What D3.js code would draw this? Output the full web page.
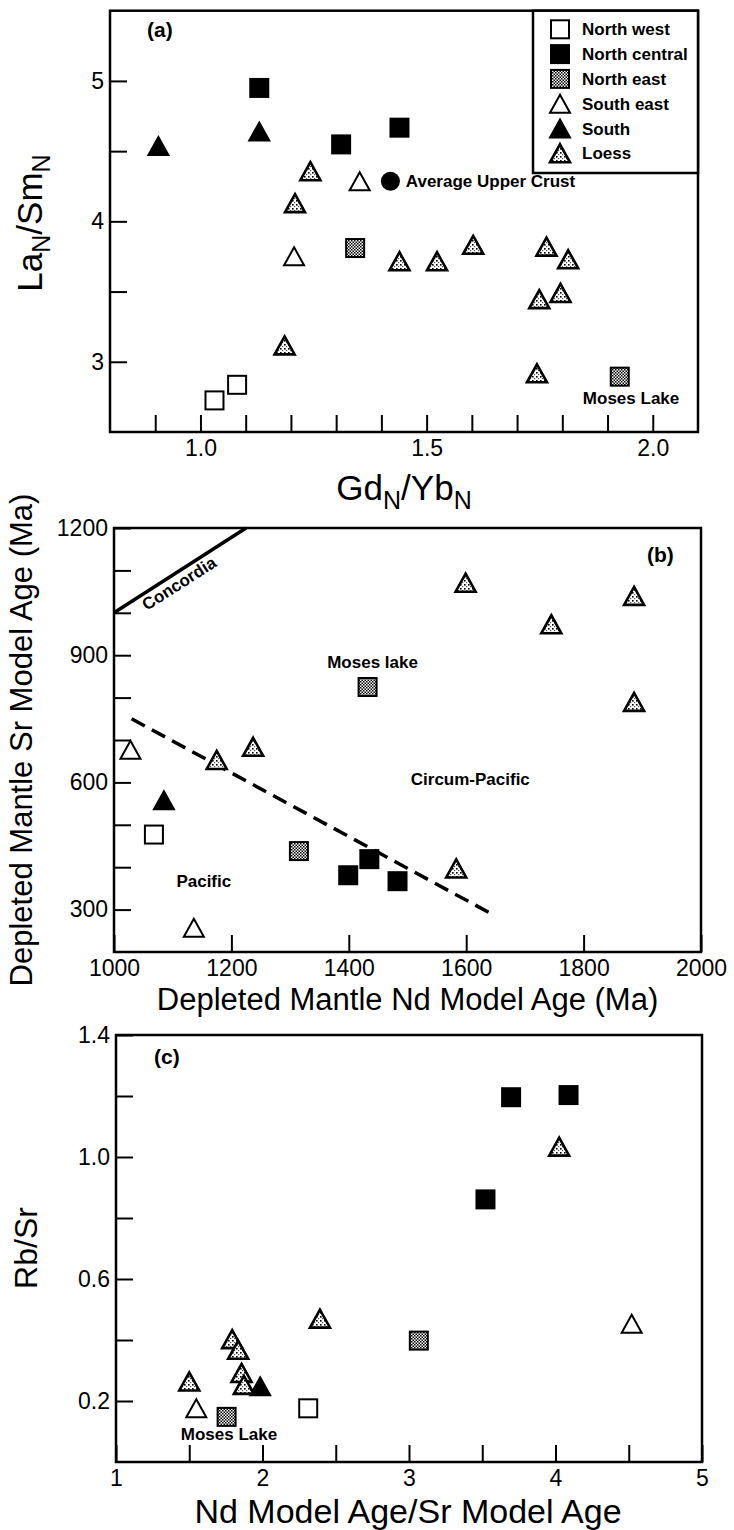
<!DOCTYPE html>
<html><head><meta charset="utf-8">
<script src="https://cdn.jsdelivr.net/npm/d3@7"></script>
<style>
body{margin:0;background:#fff}
text{font-family:"Liberation Sans",Arial,Helvetica,sans-serif;fill:#000}
</style>
</head><body>
<svg id="chart" width="734" height="1530"></svg>
<script>
// ---------- DATA ----------
const groups = ["North west","North central","North east","South east","South","Loess"];

// Panel (a): [GdN/YbN, LaN/SmN]
const aNorthWest    = [[1.031,2.725],[1.081,2.836]];
const aNorthCentral = [[1.13,4.95],[1.311,4.548],[1.44,4.667]];
const aNorthEast    = [[1.342,3.81],[1.927,2.894]];
const aSouthEast    = [[1.352,4.286],[1.207,3.751]];
const aSouth        = [[0.907,4.536],[1.13,4.64]];
const aLoess        = [[1.243,4.357],[1.209,4.13],[1.44,3.716],[1.523,3.716],[1.603,3.833],[1.765,3.82],[1.813,3.73],[1.796,3.49],[1.749,3.446],[1.186,3.117],[1.744,2.918]];
const aUpperCrust   = [[1.42,4.286]];

// Panel (b): [DM Nd model age, DM Sr model age]
const bNorthWest    = [[1068,477]];
const bNorthCentral = [[1435,419],[1399,381],[1483,367]];
const bNorthEast    = [[1315,438],[1432,825]];
const bSouthEast    = [[1028,677],[1136,257]];
const bSouth        = [[1085,558]];
const bLoess        = [[1599,1071],[1886,1040],[1745,973],[1886,790],[1175,653],[1237,684],[1583,397]];
const bConcordia    = [[1000,1000],[1225,1200]];
const bDivide       = [[1030,750],[1643,290]];

// Panel (c): [Nd age / Sr age, Rb/Sr]
const cNorthWest    = [[2.312,0.176]];
const cNorthCentral = [[3.697,1.196],[4.089,1.203],[3.522,0.861]];
const cNorthEast    = [[3.067,0.398],[1.755,0.148]];
const cSouthEast    = [[4.52,0.453],[1.548,0.176]];
const cSouth        = [[1.984,0.248]];
const cLoess        = [[4.025,1.034],[2.392,0.47],[1.793,0.403],[1.834,0.368],[1.857,0.292],[1.873,0.253],[1.5,0.264]];

// Ticks
const aXTicks = [0.9,1.0,1.1,1.2,1.3,1.4,1.5,1.6,1.7,1.8,1.9,2.0];
const aXLabels = [1.0,1.5,2.0];
const aYTicks = [3,3.5,4,4.5,5];
const aYLabels = [3,4,5];
const bXTicks = [1000,1200,1400,1600,1800,2000];
const bXLabels = [1000,1200,1400,1600,1800,2000];
const bYTicks = [300,400,500,600,700,800,900,1000,1100,1200];
const bYLabels = [300,600,900,1200];
const cXTicks = [1,1.5,2,2.5,3,3.5,4,4.5,5];
const cXLabels = [1,2,3,4,5];
const cYTicks = [0.2,0.4,0.6,0.8,1.0,1.2,1.4];
const cYLabels = [0.2,0.6,1.0,1.4];

// ---------- DRAW ----------
const svg = d3.select("#chart");
const defs = svg.append("defs");
const pDense = defs.append("pattern").attr("id","dense").attr("patternUnits","userSpaceOnUse").attr("width",3).attr("height",3);
pDense.append("rect").attr("width",3).attr("height",3).attr("fill","#fff");
pDense.append("rect").attr("width",1.5).attr("height",1.5).attr("fill","#000");
pDense.append("rect").attr("x",1.5).attr("y",1.5).attr("width",1.5).attr("height",1.5).attr("fill","#000");
const pDots = defs.append("pattern").attr("id","dots").attr("patternUnits","userSpaceOnUse").attr("width",4).attr("height",4);
pDots.append("rect").attr("width",4).attr("height",4).attr("fill","#fff");
pDots.append("rect").attr("width",1.6).attr("height",1.6).attr("fill","#000");
pDots.append("rect").attr("x",2).attr("y",2).attr("width",1.2).attr("height",1.2).attr("fill","#555");

function marker(g, type, cx, cy) {
  const s = 18, tw = 20, th = 18;
  if (type === "North west" || type === "North central" || type === "North east") {
    g.append("rect").attr("x",cx-s/2).attr("y",cy-s/2).attr("width",s).attr("height",s)
      .attr("fill", type==="North west" ? "#fff" : type==="North central" ? "#000" : "url(#dense)")
      .attr("stroke","#000").attr("stroke-width",2);
  } else if (type === "Upper crust") {
    g.append("circle").attr("cx",cx).attr("cy",cy).attr("r",9.5).attr("fill","#000");
  } else {
    const path = d3.path();
    path.moveTo(cx, cy-th/2); path.lineTo(cx+tw/2, cy+th/2); path.lineTo(cx-tw/2, cy+th/2); path.closePath();
    g.append("path").attr("d",path.toString())
      .attr("fill", type==="South east" ? "#fff" : type==="South" ? "#000" : "url(#dots)")
      .attr("stroke","#000").attr("stroke-width", type==="Loess"?2.6:2).attr("stroke-linejoin","miter");
  }
}

function panel(cfg) {
  const x = d3.scaleLinear().domain(cfg.xd).range([cfg.x0,cfg.x1]);
  const y = d3.scaleLinear().domain(cfg.yd).range([cfg.y1,cfg.y0]);
  const g = svg.append("g");
  const fmtX = v => cfg.xLabels.some(l => Math.abs(l-v)<1e-9) ? cfg.xFmt(v) : "";
  const fmtY = v => cfg.yLabels.some(l => Math.abs(l-v)<1e-9) ? cfg.yFmt(v) : "";
  const ax = g.append("g").attr("transform",`translate(0,${cfg.y1})`)
    .call(d3.axisBottom(x).tickValues(cfg.xTicks).tickSize(-17).tickPadding(8).tickFormat(fmtX));
  const ay = g.append("g").attr("transform",`translate(${cfg.x0},0)`)
    .call(d3.axisLeft(y).tickValues(cfg.yTicks).tickSize(-17).tickPadding(6).tickFormat(fmtY));
  [ax,ay].forEach(a => {
    a.select(".domain").remove();
    a.selectAll(".tick line").attr("stroke","#000").attr("stroke-width",2);
    a.selectAll(".tick text").style("font-size","23px").attr("fill","#000");
  });
  g.append("rect").attr("x",cfg.x0).attr("y",cfg.y0).attr("width",cfg.x1-cfg.x0).attr("height",cfg.y1-cfg.y0)
    .attr("fill","none").attr("stroke","#000").attr("stroke-width",2.5);
  return {g,x,y};
}

function series(P, list) {
  list.forEach(([type, data]) => data.forEach(d => marker(P.g, type, P.x(d[0]), P.y(d[1]))));
}
function label(P, txt, dx, dy, anchor, size) {
  return P.g.append("text").attr("x",P.x(dx)).attr("y",P.y(dy)).attr("text-anchor",anchor||"start")
    .style("font-size",(size||17)+"px").style("font-weight","bold").text(txt);
}

// Panel a
const A = panel({x0:110,x1:698,y0:10.7,y1:432,xd:[0.8,2.1],yd:[2.5,5.5],
  xTicks:aXTicks,xLabels:aXLabels,yTicks:aYTicks,yLabels:aYLabels,xFmt:d3.format(".1f"),yFmt:d3.format("d")});
series(A, [["North west",aNorthWest],["North central",aNorthCentral],["North east",aNorthEast],
           ["South east",aSouthEast],["South",aSouth],["Loess",aLoess],["Upper crust",aUpperCrust]]);
label(A,"(a)",0.882,5.313,"start",21);
label(A,"Average Upper Crust",1.454,4.286,"start",17).attr("dy","0.35em");
label(A,"Moses Lake",1.952,2.699,"middle",17);
// legend
const leg = A.g.append("g");
leg.append("rect").attr("x",533).attr("y",10.7).attr("width",698-533).attr("height",173-10.7)
  .attr("fill","#fff").attr("stroke","#000").attr("stroke-width",2.5);
groups.forEach((gname,i) => {
  const cy = 29.3 + i*24.8;
  marker(leg, gname, 560, cy);
  leg.append("text").attr("x",582).attr("y",cy).attr("dy","0.36em").style("font-size","17px")
    .style("font-weight","bold").text(gname);
});
// titles a
const ta = svg.append("text").attr("x",404).attr("y",500).attr("text-anchor","middle").style("font-size","35px");
ta.append("tspan").text("Gd");
ta.append("tspan").attr("dy",9).style("font-size","25px").text("N");
ta.append("tspan").attr("dy",-9).text("/Yb");
ta.append("tspan").attr("dy",9).style("font-size","25px").text("N");
const tya = svg.append("text").attr("transform","translate(42,223) rotate(-90)").attr("text-anchor","middle").style("font-size","35px");
tya.append("tspan").text("La");
tya.append("tspan").attr("dy",8).style("font-size","25px").text("N");
tya.append("tspan").attr("dy",-8).text("/Sm");
tya.append("tspan").attr("dy",8).style("font-size","25px").text("N");

// Panel b
const B = panel({x0:114,x1:701,y0:528,y1:952,xd:[1000,2000],yd:[200,1200],
  xTicks:bXTicks,xLabels:bXLabels,yTicks:bYTicks,yLabels:bYLabels,xFmt:d3.format("d"),yFmt:d3.format("d")});
const line = d3.line().x(d=>B.x(d[0])).y(d=>B.y(d[1]));
B.g.append("path").attr("d",line(bConcordia)).attr("stroke","#000").attr("stroke-width",3.5).attr("fill","none");
B.g.append("path").attr("d",line(bDivide)).attr("stroke","#000").attr("stroke-width",3.5).attr("fill","none")
  .attr("stroke-dasharray","15,8");
series(B, [["North west",bNorthWest],["North central",bNorthCentral],["North east",bNorthEast],
           ["South east",bSouthEast],["South",bSouth],["Loess",bLoess]]);
const ang = Math.atan2(B.y(bConcordia[1][1])-B.y(bConcordia[0][1]), B.x(bConcordia[1][0])-B.x(bConcordia[0][0]))*180/Math.PI;
B.g.append("text").attr("transform",`translate(${B.x(1056)},${B.y(1004)}) rotate(${ang})`)
  .style("font-size","17px").style("font-weight","bold").text("Concordia");
label(B,"(b)",1908,1120,"start",21);
label(B,"Moses lake",1440.5,870,"middle",17);
label(B,"Circum-Pacific",1607,594,"middle",17);
label(B,"Pacific",1153,353,"middle",17);
svg.append("text").attr("x",407.5).attr("y",1010).attr("text-anchor","middle").style("font-size","31px")
  .text("Depleted Mantle Nd Model Age (Ma)");
svg.append("text").attr("transform","translate(32,740) rotate(-90)").attr("text-anchor","middle").style("font-size","31px")
  .text("Depleted Mantle Sr Model Age (Ma)");

// Panel c
const C = panel({x0:116,x1:702,y0:1035,y1:1462,xd:[1,5],yd:[0,1.4],
  xTicks:cXTicks,xLabels:cXLabels,yTicks:cYTicks,yLabels:cYLabels,xFmt:d3.format("d"),yFmt:d3.format(".1f")});
series(C, [["North west",cNorthWest],["North central",cNorthCentral],["North east",cNorthEast],
           ["South east",cSouthEast],["Loess",cLoess],["South",cSouth]]);
label(C,"(c)",1.26,1.305,"start",21);
label(C,"Moses Lake",1.771,0.072,"middle",17);
svg.append("text").attr("x",408).attr("y",1523).attr("text-anchor","middle").style("font-size","34px")
  .text("Nd Model Age/Sr Model Age");
svg.append("text").attr("transform","translate(37,1248) rotate(-90)").attr("text-anchor","middle").style("font-size","32px")
  .text("Rb/Sr");
</script>
</body></html>
